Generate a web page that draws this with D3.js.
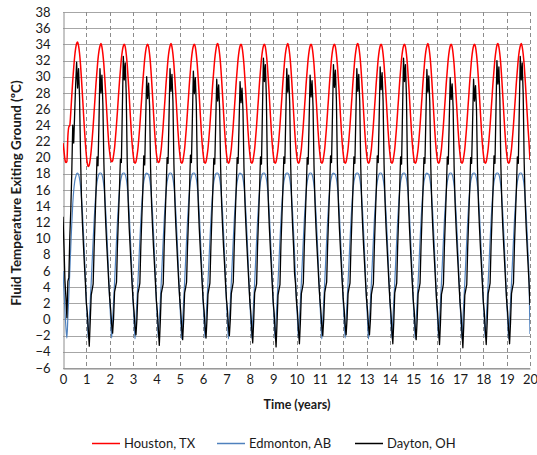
<!DOCTYPE html>
<html>
<head>
<meta charset="utf-8">
<script src="https://cdn.jsdelivr.net/npm/d3@7"></script>
<style>
  html, body { margin: 0; padding: 0; background: #fff; }
  svg { display: block; }
  text { font-family: Lato, "Open Sans", "Liberation Sans", sans-serif; fill: #1a1a1a; }
</style>
</head>
<body>
<svg id="chart" width="537" height="455"></svg>
<script>
// ---------- data ----------
const seriesNames = ["Houston, TX", "Edmonton, AB", "Dayton, OH"];
const seriesColors = ["#ff0000", "#4f81bd", "#000000"];
const xTicks = d3.range(0, 21, 1);       // 0 .. 20 years
const yTicks = d3.range(-6, 39, 2);      // -6 .. 38 °C
const samplesPerYear = 24;               // values below are read every 1/24 year

// Houston, TX — one row per year (24 readings each)
const houstonByYear = [
  [21.8,20.8,19.8,19.4,19.5,22.6,23.8,24.0,25.6,27.6,29.5,31.1,32.5,33.5,34.1,34.3,33.8,32.9,31.5,29.7,27.7,25.6,23.6,21.8],
  [20.3,19.3,18.9,19.1,19.8,20.9,22.3,23.9,25.7,27.5,29.3,30.8,32.2,33.2,33.8,34.1,33.7,32.8,31.5,29.7,27.7,25.6,23.6,21.8],
  [20.6,19.8,19.5,19.6,20.3,21.2,22.6,24.1,25.8,27.6,29.3,30.8,32.2,33.2,33.8,34.0,33.7,32.8,31.5,29.7,27.7,25.6,23.6,21.8],
  [20.5,19.6,19.3,19.5,20.2,21.1,22.5,24.0,25.8,27.5,29.3,30.8,32.2,33.2,33.8,34.0,33.7,32.8,31.5,29.7,27.7,25.6,23.6,21.8],
  [20.5,19.7,19.4,19.5,20.2,21.1,22.5,24.0,25.8,27.5,29.3,30.8,32.2,33.2,33.8,34.1,33.7,32.8,31.5,29.7,27.7,25.6,23.6,21.8],
  [20.5,19.6,19.3,19.5,20.2,21.1,22.5,24.0,25.8,27.5,29.3,30.8,32.2,33.2,33.8,34.0,33.7,32.8,31.5,29.7,27.7,25.6,23.6,21.8],
  [20.5,19.6,19.3,19.5,20.2,21.1,22.5,24.0,25.8,27.5,29.3,30.8,32.2,33.2,33.9,34.1,33.7,32.8,31.5,29.7,27.7,25.6,23.6,21.8],
  [20.5,19.6,19.3,19.5,20.2,21.1,22.5,24.0,25.8,27.5,29.3,30.8,32.2,33.2,33.8,34.0,33.7,32.8,31.5,29.7,27.7,25.6,23.6,21.8],
  [20.5,19.6,19.3,19.5,20.2,21.1,22.5,24.0,25.8,27.5,29.3,30.8,32.2,33.2,33.8,34.0,33.7,32.8,31.5,29.7,27.7,25.6,23.6,21.8],
  [20.5,19.6,19.3,19.5,20.2,21.1,22.5,24.0,25.8,27.5,29.3,30.8,32.2,33.2,33.8,34.1,33.7,32.8,31.5,29.7,27.7,25.6,23.6,21.8],
  [20.5,19.6,19.3,19.5,20.2,21.1,22.5,24.0,25.8,27.5,29.3,30.8,32.2,33.2,33.8,34.0,33.7,32.8,31.5,29.7,27.7,25.6,23.6,21.8],
  [20.5,19.6,19.3,19.5,20.2,21.1,22.5,24.0,25.8,27.5,29.3,30.8,32.2,33.2,33.8,34.0,33.7,32.8,31.5,29.7,27.7,25.6,23.6,21.8],
  [20.5,19.6,19.3,19.5,20.2,21.1,22.5,24.0,25.8,27.5,29.3,30.8,32.2,33.2,33.9,34.1,33.7,32.8,31.5,29.7,27.7,25.6,23.6,21.8],
  [20.5,19.6,19.3,19.5,20.2,21.1,22.5,24.0,25.8,27.5,29.3,30.8,32.2,33.2,33.8,34.0,33.7,32.8,31.5,29.7,27.7,25.6,23.6,21.8],
  [20.5,19.6,19.3,19.5,20.2,21.1,22.5,24.0,25.8,27.5,29.3,30.8,32.2,33.2,33.8,34.0,33.7,32.8,31.5,29.7,27.7,25.6,23.6,21.8],
  [20.5,19.6,19.3,19.5,20.2,21.1,22.5,24.0,25.8,27.5,29.3,30.8,32.2,33.2,33.8,34.1,33.7,32.8,31.5,29.7,27.7,25.6,23.6,21.8],
  [20.5,19.6,19.3,19.5,20.2,21.1,22.5,24.0,25.8,27.5,29.3,30.8,32.2,33.2,33.8,34.0,33.7,32.8,31.5,29.7,27.7,25.6,23.6,21.8],
  [20.5,19.6,19.3,19.5,20.2,21.1,22.5,24.0,25.8,27.5,29.3,30.8,32.2,33.2,33.8,34.0,33.7,32.8,31.5,29.7,27.7,25.6,23.6,21.8],
  [20.5,19.6,19.3,19.5,20.2,21.1,22.5,24.0,25.8,27.5,29.3,30.8,32.2,33.2,33.9,34.1,33.7,32.8,31.5,29.7,27.7,25.6,23.6,21.8],
  [20.5,19.6,19.3,19.5,20.2,21.1,22.5,24.0,25.8,27.5,29.3,30.8,32.2,33.2,33.8,34.1,33.7,32.8,31.5,29.7,27.7,25.6,23.6,21.8]
];
const houstonEnd = 19.7;

// Edmonton, AB — one row per year
const edmontonByYear = [
  [6.0,3.6,1.2,-1.0,-2.3,0.3,3.0,6.0,9.0,11.8,14.2,15.9,17.0,17.6,18.0,18.1,17.9,17.4,16.5,15.1,13.2,10.8,8.1,5.2],
  [2.3,0.0,-2.4,0.0,2.2,4.6,7.2,9.8,12.2,14.3,15.9,17.0,17.6,18.0,18.1,18.1,17.9,17.4,16.5,15.1,13.2,10.8,8.1,5.2],
  [2.3,0.0,-2.3,0.0,2.2,4.6,7.2,9.8,12.2,14.3,15.9,17.0,17.6,18.0,18.1,18.1,17.9,17.4,16.5,15.1,13.2,10.8,8.1,5.2],
  [2.3,0.0,-2.4,0.0,2.2,4.6,7.2,9.8,12.2,14.3,15.9,17.0,17.6,18.0,18.1,18.0,17.9,17.4,16.5,15.1,13.2,10.8,8.1,5.2],
  [2.3,0.0,-2.3,0.0,2.2,4.6,7.2,9.8,12.2,14.3,15.9,17.0,17.6,18.0,18.1,18.1,17.9,17.4,16.5,15.1,13.2,10.8,8.1,5.2],
  [2.3,0.0,-2.4,0.0,2.2,4.6,7.2,9.8,12.2,14.3,15.9,17.0,17.6,18.0,18.1,18.1,17.9,17.4,16.5,15.1,13.2,10.8,8.1,5.2],
  [2.3,0.0,-2.3,0.0,2.2,4.6,7.2,9.8,12.2,14.3,15.9,17.0,17.6,18.0,18.1,18.1,17.9,17.4,16.5,15.1,13.2,10.8,8.1,5.2],
  [2.3,0.0,-2.4,0.0,2.2,4.6,7.2,9.8,12.2,14.3,15.9,17.0,17.6,18.0,18.1,18.0,17.9,17.4,16.5,15.1,13.2,10.8,8.1,5.2],
  [2.3,0.0,-2.3,0.0,2.2,4.6,7.2,9.8,12.2,14.3,15.9,17.0,17.6,18.0,18.1,18.1,17.9,17.4,16.5,15.1,13.2,10.8,8.1,5.2],
  [2.3,0.0,-2.4,0.0,2.2,4.6,7.2,9.8,12.2,14.3,15.9,17.0,17.6,18.0,18.1,18.1,17.9,17.4,16.5,15.1,13.2,10.8,8.1,5.2],
  [2.3,0.0,-2.3,0.0,2.2,4.6,7.2,9.8,12.2,14.3,15.9,17.0,17.6,18.0,18.1,18.1,17.9,17.4,16.5,15.1,13.2,10.8,8.1,5.2],
  [2.3,0.0,-2.4,0.0,2.2,4.6,7.2,9.8,12.2,14.3,15.9,17.0,17.6,18.0,18.1,18.0,17.9,17.4,16.5,15.1,13.2,10.8,8.1,5.2],
  [2.3,0.0,-2.3,0.0,2.2,4.6,7.2,9.8,12.2,14.3,15.9,17.0,17.6,18.0,18.1,18.1,17.9,17.4,16.5,15.1,13.2,10.8,8.1,5.2],
  [2.3,0.0,-2.4,0.0,2.2,4.6,7.2,9.8,12.2,14.3,15.9,17.0,17.6,18.0,18.1,18.1,17.9,17.4,16.5,15.1,13.2,10.8,8.1,5.2],
  [2.3,0.0,-2.3,0.0,2.2,4.6,7.2,9.8,12.2,14.3,15.9,17.0,17.6,18.0,18.1,18.1,17.9,17.4,16.5,15.1,13.2,10.8,8.1,5.2],
  [2.3,0.0,-2.4,0.0,2.2,4.6,7.2,9.8,12.2,14.3,15.9,17.0,17.6,18.0,18.1,18.0,17.9,17.4,16.5,15.1,13.2,10.8,8.1,5.2],
  [2.3,0.0,-2.3,0.0,2.2,4.6,7.2,9.8,12.2,14.3,15.9,17.0,17.6,18.0,18.1,18.1,17.9,17.4,16.5,15.1,13.2,10.8,8.1,5.2],
  [2.3,0.0,-2.4,0.0,2.2,4.6,7.2,9.8,12.2,14.3,15.9,17.0,17.6,18.0,18.1,18.1,17.9,17.4,16.5,15.1,13.2,10.8,8.1,5.2],
  [2.3,0.0,-2.3,0.0,2.2,4.6,7.2,9.8,12.2,14.3,15.9,17.0,17.6,18.0,18.1,18.1,17.9,17.4,16.5,15.1,13.2,10.8,8.1,5.2],
  [2.3,0.0,-2.4,0.0,2.2,4.6,7.2,9.8,12.2,14.3,15.9,17.0,17.6,18.0,18.1,18.1,17.9,17.4,16.5,15.1,13.2,10.8,8.1,5.2]
];
const edmontonEnd = -1.8;

// Dayton, OH — one row per year
const daytonByYear = [
  [12.7,9.0,4.8,2.7,0.2,4.7,5.2,10.2,13.5,18.0,24.0,21.8,25.5,29.0,31.8,28.6,31.0,27.5,20.5,15.0,11.8,9.2,6.8,4.5],
  [2.0,0.8,-1.3,-3.3,-0.2,3.0,3.7,4.4,8.8,12.4,16.1,20.1,19.0,24.5,31.0,28.0,30.2,26.5,19.5,14.8,11.6,9.1,6.9,4.6],
  [2.6,1.2,-0.6,-1.7,0.2,3.4,4.0,4.6,9.2,12.7,16.0,19.8,19.4,26.0,32.5,29.6,31.7,27.8,19.6,14.6,11.4,9.0,6.7,4.4],
  [2.4,1.0,-0.9,-1.9,0.1,3.2,3.8,4.5,9.0,12.5,15.8,20.2,19.1,24.8,30.0,27.3,29.2,26.4,18.8,14.4,11.5,9.0,6.8,4.5],
  [2.3,0.9,-1.2,-3.2,-0.3,3.2,3.8,4.4,9.1,12.6,16.1,20.0,19.3,25.2,31.0,28.2,30.3,26.9,19.2,14.6,11.5,9.1,6.7,4.5],
  [2.5,1.0,-1.0,-2.5,-0.1,3.3,3.9,4.6,9.0,12.4,15.9,20.3,19.4,24.9,30.7,27.9,29.9,26.6,19.0,14.5,11.4,9.0,6.8,4.6],
  [2.4,1.1,-0.9,-2.3,0.0,3.1,3.8,4.5,8.9,12.5,16.0,19.9,19.2,24.4,29.7,27.0,29.0,26.0,18.9,14.4,11.5,9.0,6.9,4.5],
  [2.5,1.2,-0.8,-2.0,0.1,3.2,3.9,4.6,9.0,12.6,16.1,20.0,19.3,24.3,29.4,26.8,28.6,25.8,18.8,14.5,11.6,9.1,6.8,4.6],
  [2.3,0.9,-1.1,-2.9,-0.2,3.3,3.8,4.4,9.1,12.5,16.0,20.1,19.2,25.8,32.3,29.4,31.5,27.6,19.4,14.7,11.6,9.1,6.8,4.5],
  [2.2,0.8,-1.3,-3.4,-0.4,3.0,3.7,4.3,9.2,12.6,16.1,20.1,19.3,25.1,31.0,28.1,30.2,26.8,19.2,14.6,11.5,9.0,5.7,4.4],
  [2.2,0.9,-1.2,-3.0,-0.3,3.2,3.8,4.5,9.0,12.4,15.9,20.0,19.2,24.7,30.2,27.5,29.5,26.3,19.0,14.5,11.4,9.0,6.8,4.5],
  [2.5,1.1,-0.8,-2.0,0.1,3.3,4.0,4.6,9.1,12.6,16.0,20.2,19.4,25.4,31.5,28.7,30.8,27.2,19.3,14.6,11.5,9.1,6.8,4.6],
  [2.6,1.2,-0.7,-1.9,0.1,3.2,3.9,4.5,9.0,12.5,16.1,20.1,19.3,25.0,31.0,28.2,30.3,26.9,19.1,14.5,11.5,9.0,6.8,4.5],
  [2.5,1.1,-0.8,-1.9,0.0,3.1,3.8,4.4,8.9,12.5,16.0,20.2,19.4,25.1,31.2,28.4,30.5,27.0,19.2,14.6,11.5,9.1,6.8,4.5],
  [2.3,0.9,-1.2,-3.0,-0.3,3.3,3.9,4.5,9.1,12.6,16.1,20.1,19.2,25.8,32.3,29.4,31.5,27.6,19.4,14.7,11.6,9.1,6.8,4.5],
  [2.4,1.0,-1.0,-2.5,-0.1,3.2,3.8,4.5,9.0,12.5,16.0,20.0,19.3,25.0,30.9,28.1,30.1,26.8,19.1,14.5,11.5,9.0,6.8,4.5],
  [2.3,0.9,-1.2,-3.1,-0.3,3.1,3.7,4.4,8.9,12.4,15.9,20.1,19.2,24.6,29.9,27.2,29.1,26.1,18.9,14.4,11.5,9.0,6.8,4.5],
  [2.2,0.8,-1.4,-3.5,-0.5,3.0,3.7,4.3,9.0,12.5,16.0,20.0,19.3,24.4,29.7,27.0,28.9,26.0,18.9,14.4,11.5,9.0,6.8,4.5],
  [2.2,0.9,-1.2,-3.1,-0.3,3.2,3.8,4.5,9.1,12.6,16.1,20.2,19.3,25.7,32.0,29.1,31.2,27.4,19.3,14.6,11.5,9.1,6.8,4.5],
  [2.3,0.9,-1.2,-3.0,-0.3,3.2,3.9,4.5,9.1,12.6,16.1,20.1,19.3,26.0,32.5,29.6,31.7,27.8,19.5,14.7,11.6,9.1,6.8,4.5]
];
const daytonEnd = 1.8;

// ---------- build point lists ----------
function toPoints(rows, endValue) {
  const pts = [];
  rows.forEach((row, y) => row.forEach((v, i) => pts.push([y + i / samplesPerYear, v])));
  pts.push([rows.length, endValue]);
  return pts;
}
const series = [
  { name: seriesNames[0], color: seriesColors[0], width: 1.5, curve: d3.curveMonotoneX, pts: toPoints(houstonByYear, houstonEnd) },
  { name: seriesNames[1], color: seriesColors[1], width: 1.2, curve: d3.curveMonotoneX, pts: toPoints(edmontonByYear, edmontonEnd) },
  { name: seriesNames[2], color: seriesColors[2], width: 1.3, curve: d3.curveLinear, pts: toPoints(daytonByYear, daytonEnd) }
];

// ---------- layout ----------
const svg = d3.select("#chart");
const plot = { left: 63, right: 530, top: 12, bottom: 368 };
const x = d3.scaleLinear().domain([0, 20]).range([plot.left, plot.right]);
const y = d3.scaleLinear().domain([-6, 38]).range([plot.bottom, plot.top]);

svg.append("defs").append("clipPath").attr("id", "clip")
  .append("rect").attr("x", plot.left).attr("y", plot.top - 2)
  .attr("width", plot.right - plot.left).attr("height", plot.bottom - plot.top + 4);

// horizontal gridlines (solid)
svg.append("g").selectAll("line").data(yTicks).join("line")
  .attr("x1", plot.left).attr("x2", plot.right)
  .attr("y1", d => Math.round(y(d)) + 0.5).attr("y2", d => Math.round(y(d)) + 0.5)
  .attr("stroke", "#a6a6a6").attr("stroke-width", 1);

// vertical gridlines (dashed)
svg.append("g").selectAll("line").data(xTicks.filter(d => d > 0)).join("line")
  .attr("x1", d => Math.round(x(d)) + 0.5).attr("x2", d => Math.round(x(d)) + 0.5)
  .attr("y1", plot.top).attr("y2", plot.bottom)
  .attr("stroke", "#8c8c8c").attr("stroke-width", 1).attr("stroke-dasharray", "4,3");

// axes via d3 axis generators
const yAxis = d3.axisLeft(y).tickValues(yTicks).tickSize(0).tickPadding(13).tickFormat(d3.format("d"));
const gy = svg.append("g").attr("transform", `translate(${plot.left + 0.5},0)`).call(yAxis);
gy.select(".domain").attr("stroke", "#8c8c8c");
gy.selectAll("text").style("font-size", "13px").style("font-family", "Lato, sans-serif").attr("fill", "#1a1a1a");

const xAxis = d3.axisBottom(x).tickValues(xTicks).tickSize(0).tickPadding(6).tickFormat(d3.format("d"));
const gx = svg.append("g").attr("transform", `translate(0,${plot.bottom + 0.5})`).call(xAxis);
gx.select(".domain").attr("stroke", "#8c8c8c");
gx.selectAll("text").style("font-size", "13px").style("font-family", "Lato, sans-serif").attr("fill", "#1a1a1a");

// series lines
const lines = svg.append("g").attr("clip-path", "url(#clip)");
series.forEach(s => {
  const gen = d3.line().x(d => x(d[0])).y(d => y(d[1])).curve(s.curve);
  lines.append("path").datum(s.pts)
    .attr("d", gen).attr("fill", "none")
    .attr("stroke", s.color).attr("stroke-width", s.width)
    .attr("stroke-linejoin", "round");
});

// axis titles
svg.append("text")
  .attr("transform", `translate(21,${(plot.top + plot.bottom) / 2 + 3}) rotate(-90)`)
  .attr("text-anchor", "middle")
  .style("font-size", "13.4px").style("font-weight", "bold")
  .text("Fluid Temperature Exiting Ground  (ºC)");

svg.append("text")
  .attr("x", 297).attr("y", 409)
  .attr("text-anchor", "middle")
  .style("font-size", "12.5px").style("font-weight", "bold")
  .text("Time (years)");

// legend
const legendX = [92, 217, 355];
const legend = svg.append("g");
series.forEach((s, i) => {
  const g = legend.append("g").attr("transform", `translate(${legendX[i]},443)`);
  g.append("line").attr("x1", 0).attr("x2", 28).attr("y1", 0.5).attr("y2", 0.5)
    .attr("stroke", s.color).attr("stroke-width", 1.5);
  g.append("text").attr("x", 32).attr("y", 5).style("font-size", "13px").text(s.name);
});
</script>
</body>
</html>
